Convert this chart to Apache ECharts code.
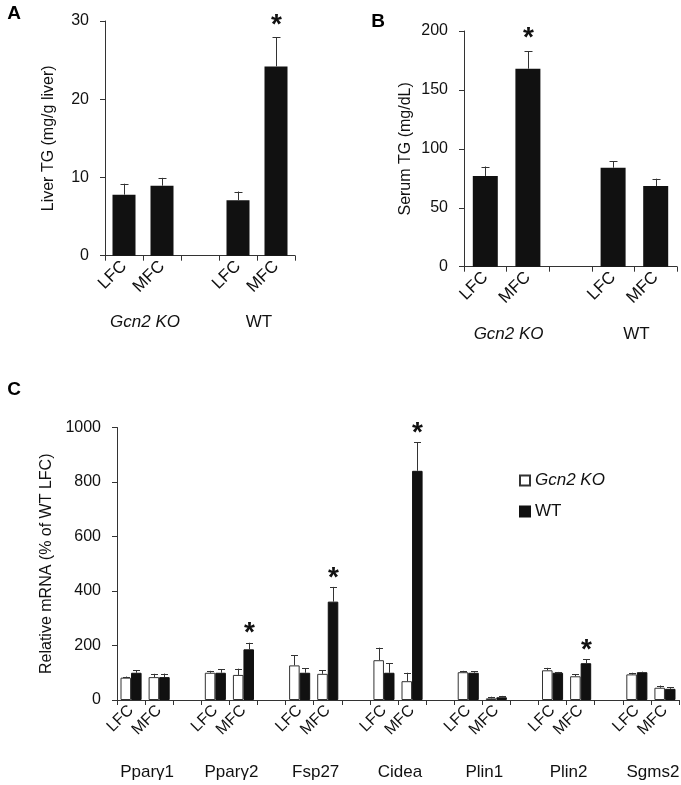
<!DOCTYPE html>
<html>
<head>
<meta charset="utf-8">
<script src="https://cdn.jsdelivr.net/npm/echarts@6/dist/echarts.min.js"></script>
<style>
  html, body { margin: 0; padding: 0; background: #fff; }
  #chart { width: 681px; height: 785px; }
</style>
</head>
<body>
<div id="chart"></div>
<script>
// ---------- Data ----------
const catsAB = ['LFC', 'MFC', '', 'LFC', 'MFC'];
const groupsAB = ['Gcn2 KO', 'WT'];

const liverTG = [7.8, 8.95, null, 7.1, 24.2];
const liverSEM = [1.4, 1.0, null, 1.1, 3.7];
const liverSig = [0, 0, 0, 0, 1];

const serumTG = [77, 168, null, 84, 68.5];
const serumSEM = [8, 15, null, 5.6, 6.2];
const serumSig = [0, 1, 0, 0, 0];

const genes = ['Pparγ1', 'Pparγ2', 'Fsp27', 'Cidea', 'Plin1', 'Plin2', 'Sgms2'];
const koLFC = [82, 100, 127, 146, 102, 109, 94];
const koLFCsem = [4, 7, 38, 46, 5, 9, 6];
const koMFC = [84, 92, 96, 69, 6, 87, 45];
const koMFCsem = [12, 23, 14, 31, 6, 7, 8];
const wtLFC = [100, 100, 100, 100, 100, 100, 102];
const wtLFCsem = [10, 12, 16, 34, 6, 3, 2];
const wtMFC = [84, 186, 361, 841, 10, 135, 41];
const wtMFCsem = [13, 24, 54, 104, 5, 15, 6];
const wtMFCsig = [0, 1, 1, 1, 0, 1, 0];

const yTicksA = [0, 30, 10];
const yTicksB = [0, 200, 50];
const yTicksC = [0, 1000, 200];

// ---------- Build ----------
const FONT = 'Liberation Sans, Arial, sans-serif';
const AXIS_COLOR = '#333';

const catsC = [];
const koC = [], wtC = [], koErr = [], wtErr = [];
genes.forEach((g, i) => {
  catsC.push('LFC', 'MFC');
  koC.push(koLFC[i], koMFC[i]);
  wtC.push(wtLFC[i], wtMFC[i]);
  const b = catsC.length - 2;
  koErr.push([b, koLFC[i], koLFCsem[i], 0], [b + 1, koMFC[i], koMFCsem[i], 0]);
  wtErr.push([b, wtLFC[i], wtLFCsem[i], 0], [b + 1, wtMFC[i], wtMFCsem[i], wtMFCsig[i]]);
  if (i < genes.length - 1) { catsC.push(''); koC.push(null); wtC.push(null); }
});

function errData(vals, sems, sigs) {
  const out = [];
  vals.forEach((v, i) => { if (v != null) out.push([i, v, sems[i], sigs[i]]); });
  return out;
}

function errRender(offsetFrac, capW, starGap) {
  return function (params, api) {
    const x = api.value(0), m = api.value(1), s = api.value(2), sig = api.value(3);
    const p0 = api.coord([x, m]);
    const p1 = api.coord([x, m + s]);
    const bw = api.size([1, 0])[0];
    const cx = Math.round(p0[0] + offsetFrac * bw) + 0.5;
    const style = { stroke: '#333', lineWidth: 1 };
    const children = [
      { type: 'line', shape: { x1: cx, y1: p0[1], x2: cx, y2: p1[1] }, style: style },
      { type: 'line', shape: { x1: cx - capW / 2, y1: Math.round(p1[1]) + 0.5, x2: cx + capW / 2, y2: Math.round(p1[1]) + 0.5 }, style: style }
    ];
    if (sig) {
      children.push({
        type: 'text',
        style: { text: '*', x: cx, y: p1[1] - starGap, align: 'center', verticalAlign: 'middle',
                 font: 'bold 28px ' + FONT, fill: '#111' }
      });
    }
    return { type: 'group', children: children };
  };
}

function xAxisCfg(grid, cats, fs) {
  return {
    type: 'category', gridIndex: grid, data: cats,
    axisLine: { lineStyle: { color: AXIS_COLOR, width: 1 } },
    axisTick: { show: true, length: 5, lineStyle: { color: AXIS_COLOR } },
    axisLabel: { interval: 0, rotate: 45, fontSize: fs, color: '#111', fontFamily: FONT, margin: 8 },
    splitLine: { show: false }
  };
}
function yAxisCfg(grid, t, name, gap) {
  return {
    type: 'value', gridIndex: grid, min: t[0], max: t[1], interval: t[2],
    name: name, nameLocation: 'middle', nameGap: gap, nameRotate: 90,
    nameTextStyle: { fontSize: 16, color: '#111', fontFamily: FONT },
    axisLine: { show: true, lineStyle: { color: AXIS_COLOR, width: 1 } },
    axisTick: { show: true, length: 5, lineStyle: { color: AXIS_COLOR } },
    axisLabel: { fontSize: 16, color: '#111', fontFamily: FONT, margin: 16, formatter: v => String(v) },
    splitLine: { show: false }
  };
}

const chart = echarts.init(document.getElementById('chart'), null, { renderer: 'canvas' });

const option = {
  animation: false,
  backgroundColor: '#fff',
  textStyle: { fontFamily: FONT },
  grid: [
    { left: 105, top: 21, width: 190, height: 234.7 },
    { left: 464, top: 31, width: 213, height: 235.7 },
    { left: 117, top: 427.5, width: 562, height: 272.5 }
  ],
  xAxis: [xAxisCfg(0, catsAB, 17), xAxisCfg(1, catsAB, 17), xAxisCfg(2, catsC, 16)],
  yAxis: [
    yAxisCfg(0, yTicksA, 'Liver TG (mg/g liver)', 48),
    yAxisCfg(1, yTicksB, 'Serum TG (mg/dL)', 50),
    yAxisCfg(2, yTicksC, 'Relative mRNA (% of WT LFC)', 53)
  ],
  legend: {
    data: ['Gcn2 KO', 'WT'],
    orient: 'vertical', left: 519, top: 472, padding: 0,
    icon: 'rect',
    itemWidth: 10, itemHeight: 10, itemGap: 14, itemTextGap: 4,
    textStyle: { fontSize: 17, color: '#111', fontFamily: FONT,
                 rich: { i: { fontStyle: 'italic', fontSize: 17, fontFamily: FONT, color: '#111' } } },
    formatter: n => n === 'Gcn2 KO' ? '{i|' + n + '}' : n
  },
  series: [
    { type: 'bar', xAxisIndex: 0, yAxisIndex: 0, data: liverTG, barWidth: 23,
      itemStyle: { color: '#111' } },
    { type: 'custom', xAxisIndex: 0, yAxisIndex: 0, data: errData(liverTG, liverSEM, liverSig),
      renderItem: errRender(0, 8, 12), encode: { x: 0, y: 1 }, z: 5 },
    { type: 'bar', xAxisIndex: 1, yAxisIndex: 1, data: serumTG, barWidth: 25,
      itemStyle: { color: '#111' } },
    { type: 'custom', xAxisIndex: 1, yAxisIndex: 1, data: errData(serumTG, serumSEM, serumSig),
      renderItem: errRender(0, 8, 13), encode: { x: 0, y: 1 }, z: 5 },
    { name: 'Gcn2 KO', type: 'bar', xAxisIndex: 2, yAxisIndex: 2, data: koC,
      barGap: 0, barCategoryGap: '25%',
      itemStyle: { color: '#fff', borderColor: '#333', borderWidth: 1 } },
    { name: 'WT', type: 'bar', xAxisIndex: 2, yAxisIndex: 2, data: wtC,
      barGap: 0, barCategoryGap: '25%',
      itemStyle: { color: '#111', borderColor: '#111', borderWidth: 1 } },
    { type: 'custom', xAxisIndex: 2, yAxisIndex: 2, data: koErr,
      renderItem: errRender(-0.1875, 7, 9), encode: { x: 0, y: 1 }, z: 5 },
    { type: 'custom', xAxisIndex: 2, yAxisIndex: 2, data: wtErr,
      renderItem: errRender(0.1875, 7, 9), encode: { x: 0, y: 1 }, z: 5 }
  ]
};
chart.setOption(option);

// Group labels and panel letters, positioned from the axes
function px(grid, cat, val) {
  return chart.convertToPixel({ xAxisIndex: grid, yAxisIndex: grid }, [cat, val]);
}
const g = [];
function groupLabel(grid, c0, text, dy, italic) {
  const a = px(grid, c0, 0), b = px(grid, c0 + 1, 0);
  g.push({ type: 'text', x: (a[0] + b[0]) / 2 + 2, y: a[1] + dy,
    style: { text: text, align: 'center', verticalAlign: 'middle',
             font: (italic ? 'italic ' : '') + '17px ' + FONT, fill: '#111' } });
}
groupLabel(0, 0, groupsAB[0], 67, true);
groupLabel(0, 3, groupsAB[1], 67, false);
groupLabel(1, 0, groupsAB[0], 68, true);
groupLabel(1, 3, groupsAB[1], 68, false);
genes.forEach((name, i) => groupLabel(2, i * 3, name, 72, false));

[['A', 14, 14], ['B', 378, 22], ['C', 14, 390]].forEach(([t, x, y]) => {
  g.push({ type: 'text', x: x, y: y,
    style: { text: t, align: 'center', verticalAlign: 'middle', font: 'bold 19px ' + FONT, fill: '#000' } });
});
chart.setOption({ graphic: g });
</script>
</body>
</html>
